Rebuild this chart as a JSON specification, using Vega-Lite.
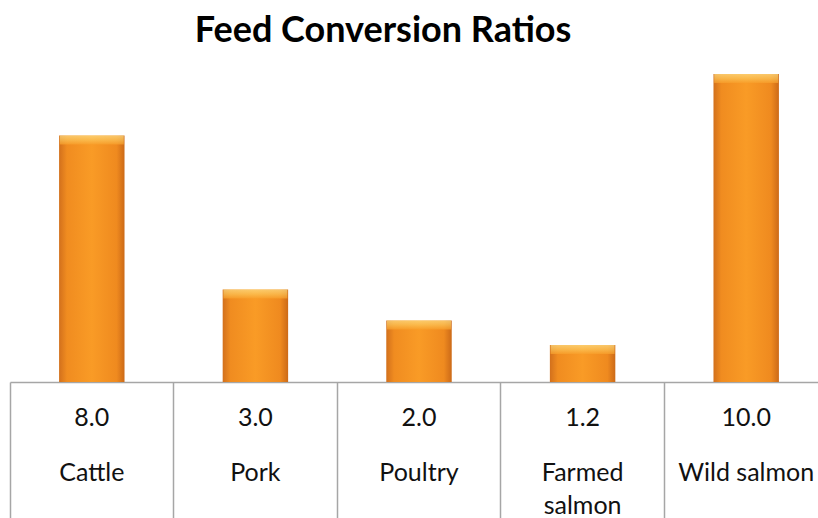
{
  "$schema": "https://vega.github.io/schema/vega-lite/v6.json",
  "width": 808,
  "height": 308,
  "autosize": {"type": "none"},
  "padding": {"left": 10, "top": 74, "right": 0, "bottom": 136},
  "background": "white",
  "config": {"view": {"stroke": null}, "font": "Lato"},
  "title": {
    "text": "Feed Conversion Ratios",
    "font": "Lato",
    "fontSize": 36,
    "fontWeight": "bold",
    "color": "#000000",
    "anchor": "middle",
    "baseline": "alphabetic",
    "dx": -31,
    "dy": 35,
    "offset": 31
  },
  "data": {
    "values": [
      {"animal": "Cattle", "ratio": 8.0},
      {"animal": "Pork", "ratio": 3.0},
      {"animal": "Poultry", "ratio": 2.0},
      {"animal": "Farmed salmon", "ratio": 1.2},
      {"animal": "Wild salmon", "ratio": 10.0}
    ]
  },
  "encoding": {
    "x": {
      "field": "animal",
      "type": "nominal",
      "sort": null,
      "scale": {"range": [0, 818], "paddingInner": 0, "paddingOuter": 0},
      "axis": {
        "title": null,
        "domainColor": "#a6a6a6",
        "domainWidth": 1.5,
        "tickColor": "#a6a6a6",
        "tickWidth": 1.5,
        "tickSize": 140,
        "bandPosition": 0,
        "labelFont": "Lato",
        "labelFontSize": 25,
        "labelColor": "#111111",
        "labelAngle": 0,
        "labelBaseline": "top",
        "labelPadding": -62,
        "labelLineHeight": 33,
        "labelOverlap": false,
        "labelLimit": 0,
        "labelFlush": false,
        "labelExpr": "datum.value == 'Farmed salmon' ? ['Farmed', 'salmon'] : datum.value"
      }
    }
  },
  "layer": [
    {
      "mark": {
        "type": "bar",
        "width": {"band": 0.4},
        "fill": {
          "gradient": "linear",
          "x1": 0, "y1": 0, "x2": 1, "y2": 0,
          "stops": [
            {"offset": 0, "color": "#d2701c"},
            {"offset": 0.12, "color": "#f08c20"},
            {"offset": 0.5, "color": "#f99b26"},
            {"offset": 0.88, "color": "#ef8a1f"},
            {"offset": 1, "color": "#cc6a18"}
          ]
        }
      },
      "encoding": {
        "y": {
          "field": "ratio",
          "type": "quantitative",
          "scale": {"domain": [0, 10], "nice": false, "zero": true},
          "axis": null
        }
      }
    },
    {
      "mark": {
        "type": "tick",
        "size": 64,
        "thickness": 9,
        "yOffset": 4.5,
        "fill": {
          "gradient": "linear",
          "x1": 0, "y1": 0, "x2": 0, "y2": 1,
          "stops": [
            {"offset": 0, "color": "#fde08a"},
            {"offset": 0.5, "color": "#fcc65a"},
            {"offset": 1, "color": "#f8a02c"}
          ]
        }
      },
      "encoding": {
        "y": {"field": "ratio", "type": "quantitative"}
      }
    },
    {
      "mark": {
        "type": "text",
        "font": "Lato",
        "fontSize": 25,
        "color": "#111111",
        "baseline": "middle",
        "dy": 36
      },
      "encoding": {
        "y": {"datum": 0, "type": "quantitative"},
        "text": {"field": "ratio", "type": "quantitative", "format": ".1f"}
      }
    }
  ]
}
